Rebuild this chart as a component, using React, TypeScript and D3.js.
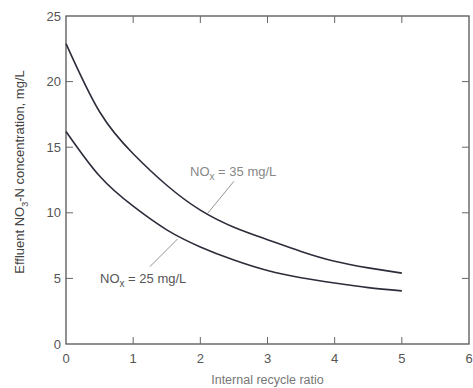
import * as d3 from "d3";
import React, { useEffect, useRef } from "react";

// internal recycle ratio (x) and effluent NO3-N, mg/L
const ratios = [0, 0.5, 1, 1.5, 2, 2.5, 3, 3.5, 4, 4.5, 5];
const nox35 = [22.9, 17.7, 14.5, 12.1, 10.2, 8.9, 7.95, 7.05, 6.3, 5.8, 5.4];
const nox25 = [16.2, 12.8, 10.5, 8.7, 7.4, 6.4, 5.6, 5.05, 4.65, 4.3, 4.05];
const xTicks = [0, 1, 2, 3, 4, 5, 6];
const yTicks = [0, 5, 10, 15, 20, 25];

export default function App() {
  const svgRef = useRef<SVGSVGElement>(null);
  const width = 473;
  const height = 388;
  const margin = { top: 16, right: 3, bottom: 44, left: 66 };

  useEffect(() => {
    const svgEl = d3.select(svgRef.current);
    svgEl.selectAll("*").remove();
    const font = "Liberation Sans, Arial, sans-serif";

    const xScale = d3
      .scaleLinear()
      .domain([0, 6])
      .range([margin.left, width - margin.right - 1]);
    const yScale = d3
      .scaleLinear()
      .domain([0, 25])
      .range([height - margin.bottom, margin.top]);

    const x0 = xScale(0), x1 = xScale(6), y0 = yScale(0), y1 = yScale(25);

    // frame
    svgEl
      .append("rect")
      .attr("x", x0)
      .attr("y", y1)
      .attr("width", x1 - x0)
      .attr("height", y0 - y1)
      .attr("fill", "none")
      .attr("stroke", "#555")
      .attr("stroke-width", 1.3);

    // inward ticks on all sides
    const tickLen = 7;
    const ticks = svgEl.append("g").attr("stroke", "#666").attr("stroke-width", 1);
    xTicks.slice(1, -1).forEach((t) => {
      ticks.append("line").attr("x1", xScale(t)).attr("x2", xScale(t)).attr("y1", y0).attr("y2", y0 - tickLen);
      ticks.append("line").attr("x1", xScale(t)).attr("x2", xScale(t)).attr("y1", y1).attr("y2", y1 + tickLen);
    });
    yTicks.slice(1, -1).forEach((t) => {
      ticks.append("line").attr("x1", x0).attr("x2", x0 + tickLen).attr("y1", yScale(t)).attr("y2", yScale(t));
      ticks.append("line").attr("x1", x1).attr("x2", x1 - tickLen).attr("y1", yScale(t)).attr("y2", yScale(t));
    });

    // tick labels
    svgEl
      .append("g")
      .selectAll("text")
      .data(xTicks)
      .join("text")
      .attr("x", (d) => xScale(d))
      .attr("y", y0 + 19)
      .attr("text-anchor", "middle")
      .attr("font-family", font)
      .attr("font-size", 13)
      .attr("fill", "#555")
      .text((d) => d);

    svgEl
      .append("g")
      .selectAll("text")
      .data(yTicks)
      .join("text")
      .attr("x", x0 - 5)
      .attr("y", (d) => yScale(d))
      .attr("dy", "0.35em")
      .attr("text-anchor", "end")
      .attr("font-family", font)
      .attr("font-size", 13)
      .attr("fill", "#555")
      .text((d) => d);

    // axis titles
    svgEl
      .append("text")
      .attr("x", (x0 + x1) / 2)
      .attr("y", height - 4)
      .attr("text-anchor", "middle")
      .attr("font-family", font)
      .attr("font-size", 12.5)
      .attr("fill", "#777")
      .text("Internal recycle ratio");

    const yl = svgEl
      .append("text")
      .attr("transform", `translate(24,${(y0 + y1) / 2 - 8}) rotate(-90)`)
      .attr("text-anchor", "middle")
      .attr("font-family", font)
      .attr("font-size", 13)
      .attr("fill", "#444");
    yl.append("tspan").text("Effluent NO");
    yl.append("tspan").attr("font-size", 9).attr("dy", 4).text("3");
    yl.append("tspan").attr("dy", -4).text("-N concentration, mg/L");

    // curves
    const line = d3
      .line<number>()
      .x((d, i) => xScale(ratios[i]))
      .y((d) => yScale(d))
      .curve(d3.curveNatural);

    [nox35, nox25].forEach((s) => {
      svgEl
        .append("path")
        .datum(s)
        .attr("fill", "none")
        .attr("stroke", "#2b2d3a")
        .attr("stroke-width", 1.6)
        .attr("d", line);
    });

    // annotations
    const annot = (label: string, tx: number, ty: number, color: string, lx1: number, ly1: number, lx2: number, ly2: number) => {
      svgEl
        .append("line")
        .attr("x1", xScale(lx1))
        .attr("y1", yScale(ly1))
        .attr("x2", xScale(lx2))
        .attr("y2", yScale(ly2))
        .attr("stroke", "#777")
        .attr("stroke-width", 0.8);
      const t = svgEl
        .append("text")
        .attr("x", tx)
        .attr("y", ty)
        .attr("font-family", font)
        .attr("font-size", 13)
        .attr("fill", color);
      t.append("tspan").text("NO");
      t.append("tspan").attr("font-size", 10).attr("dy", 4).text("x");
      t.append("tspan").attr("dy", -4).text(label);
    };
    annot(" = 35 mg/L", 190, 176, "#888", 2.5, 12.4, 2.1, 9.9);
    annot(" = 25 mg/L", 100, 283, "#555", 1.25, 5.9, 1.66, 8.0);
  });

  return (
    <svg width={width} height={height} ref={svgRef} style={{ position: "absolute", left: 0, top: 0 }}></svg>
  );
}
